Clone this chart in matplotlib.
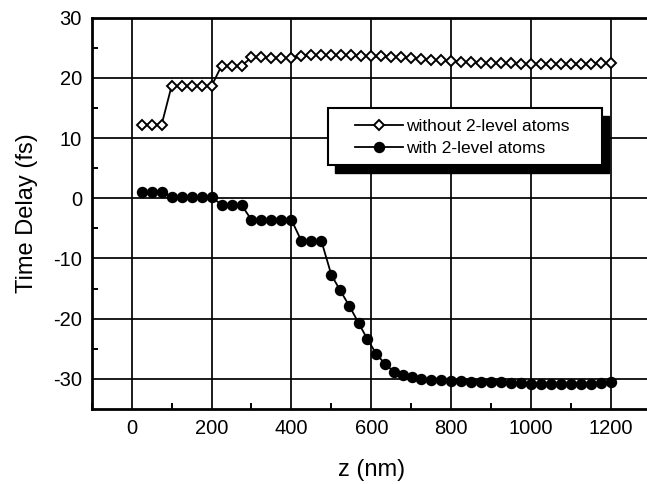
import numpy as np
import matplotlib
matplotlib.use("Agg")
import matplotlib.pyplot as plt
from matplotlib.patches import Rectangle

plt.rcParams['font.family'] = ['Liberation Sans', 'DejaVu Sans']
plt.rcParams['axes.unicode_minus'] = False

# delay without the two-level atoms (step 25 nm)
z_without = list(range(25, 1201, 25))
delay_without = [12.2, 12.2, 12.2,
                 18.65, 18.65, 18.65, 18.65, 18.65,
                 22.0, 22.0, 22.0,
                 23.4, 23.4, 23.35, 23.3, 23.3,
                 23.7, 23.8, 23.8, 23.8, 23.8, 23.75, 23.7, 23.6, 23.55, 23.5,
                 23.4, 23.3, 23.2, 23.0, 22.9, 22.85, 22.7, 22.6, 22.55, 22.5,
                 22.45, 22.4, 22.3, 22.3, 22.25, 22.25, 22.25, 22.25, 22.25,
                 22.3, 22.4, 22.5]

# delay with the two-level atoms (finer sampling on the steep part)
z_with = (list(range(25, 476, 25))
          + [500, 522, 545, 568, 590, 612, 635, 657, 680, 702, 725]
          + list(range(750, 1201, 25)))
delay_with = [1.1, 1.1, 1.1,
              0.25, 0.25, 0.25, 0.25, 0.25,
              -1.1, -1.1, -1.1,
              -3.6, -3.6, -3.6, -3.6, -3.6,
              -7.1, -7.1, -7.1,
              -12.75, -15.3, -17.9, -20.7, -23.4, -25.8, -27.6, -28.8,
              -29.35, -29.7, -30.0,
              -30.2, -30.2, -30.3, -30.4, -30.45, -30.5, -30.6, -30.6,
              -30.7, -30.7, -30.8, -30.9, -30.85, -30.85, -30.85, -30.8,
              -30.8, -30.65, -30.55]

x_ticks = [0, 200, 400, 600, 800, 1000, 1200]
y_ticks = [-30, -20, -10, 0, 10, 20, 30]

fig = plt.figure(figsize=(6.47, 4.84), dpi=100)
ax = fig.add_axes([0.1417, 0.155, 0.8645, 0.8085])

l1, = ax.plot(z_without, delay_without, color='black', lw=1.3, marker='D',
              ms=5.4, mfc='white', mec='black', mew=1.4, zorder=3)
l2, = ax.plot(z_with, delay_with, color='black', lw=1.3, marker='o',
              ms=7.2, mfc='black', mec='black', zorder=3)

ax.set_xlim(-100, 1300)
ax.set_ylim(-35, 30)
ax.set_xticks(x_ticks)
ax.set_yticks(y_ticks)
ax.set_xticks(np.arange(-100, 1300, 200), minor=True)
ax.set_yticks(np.arange(-35, 30, 10)[1:], minor=True)
ax.tick_params(which='both', direction='in', width=1.4, labelsize=14.5, pad=7)
ax.tick_params(which='major', length=0)
ax.tick_params(which='minor', length=4.5)
ax.grid(True, which='major', color='black', lw=1.25)
for s in ax.spines.values():
    s.set_linewidth(2.0)

ax.set_xlabel('z (nm)', fontsize=17, labelpad=15)
ax.set_ylabel('Time Delay (fs)', fontsize=17, labelpad=10.5)

# legend box with a solid drop shadow
fig.patches.append(Rectangle((0.5181, 0.6425), 0.4235, 0.117, transform=fig.transFigure,
                             facecolor='black', edgecolor='black', zorder=2))
fig.patches.append(Rectangle((0.5065, 0.659), 0.4235, 0.117, transform=fig.transFigure,
                             facecolor='white', edgecolor='black', lw=1.5, zorder=3))
fig.legend([l1, l2], ['without 2-level atoms', 'with 2-level atoms'],
           loc='center left', bbox_to_anchor=(0.5487, 0.716),
           frameon=False, borderpad=0, borderaxespad=0,
           fontsize=12.5, handlelength=2.76, handletextpad=0.2,
           labelspacing=0.36)

fig.savefig('out.png', dpi=100)
